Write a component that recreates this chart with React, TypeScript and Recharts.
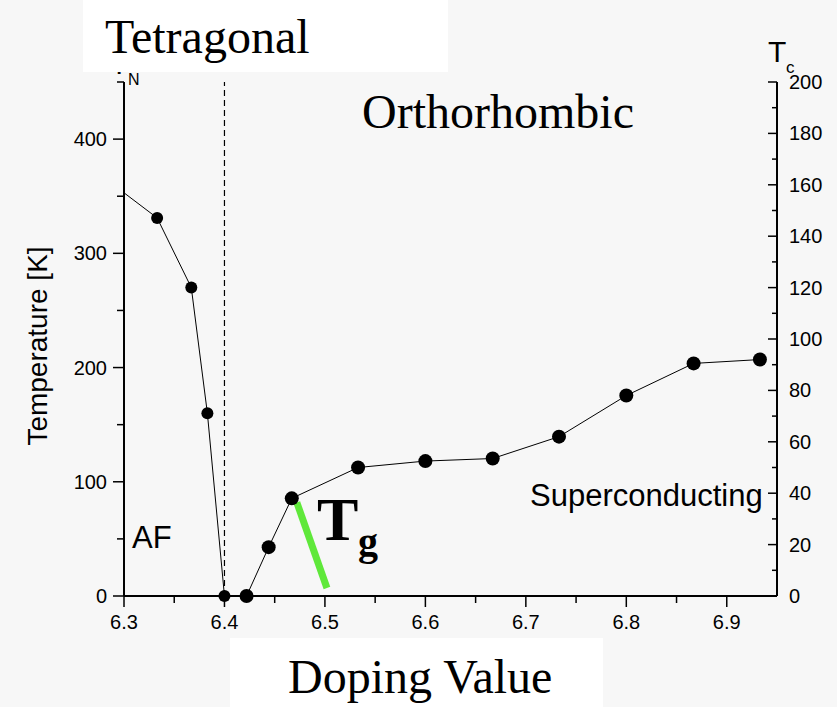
import { ComposedChart, Line, XAxis, YAxis, ReferenceLine } from "recharts";

// Néel temperature (left axis, K)
const tnDoping = [6.3, 6.333, 6.367, 6.383, 6.4];
const tnTemp = [353, 331, 270, 160, 0];

// Tc (right axis, K)
const tcDoping = [6.422, 6.444, 6.467, 6.533, 6.6, 6.667, 6.733, 6.8, 6.867, 6.933];
const tcTemp = [0, 19, 38, 50, 52.5, 53.5, 62, 78, 90.5, 92];

// Tg marker (left axis)
const tgDoping = [6.472, 6.502];
const tgTemp = [82, 7];

const xTicks = [6.3, 6.35, 6.4, 6.45, 6.5, 6.55, 6.6, 6.65, 6.7, 6.75, 6.8, 6.85, 6.9];
const leftTicks = [0, 50, 100, 150, 200, 250, 300, 350, 400, 450];
const rightTicks = [0, 10, 20, 30, 40, 50, 60, 70, 80, 90, 100, 110, 120, 130, 140, 150, 160, 170, 180, 190, 200];

const tnData = tnDoping.map((d, i) => ({ d, t: tnTemp[i] }));
const tcData = tcDoping.map((d, i) => ({ d, t: tcTemp[i] }));
const tgData = tgDoping.map((d, i) => ({ d, t: tgTemp[i] }));

const SANS = "'Liberation Sans', Arial, sans-serif";
const SERIF = "'Liberation Serif', 'Times New Roman', serif";

const BottomTick = ({ x, y, payload }: any) => {
  const major = Math.round(payload.value * 100) % 10 === 0;
  return (
    <g>
      <line x1={x} y1={y} x2={x} y2={y + (major ? 11 : 7)} stroke="#000" strokeWidth={1.5} />
      {major && (
        <text x={x} y={y + 33} textAnchor="middle" fontSize={20} fontFamily={SANS} fill="#000">
          {payload.value.toFixed(1)}
        </text>
      )}
    </g>
  );
};

const LeftTick = ({ x, y, payload }: any) => {
  const major = payload.value % 100 === 0;
  return (
    <g>
      <line x1={x} y1={y} x2={x - (major ? 11 : 7)} y2={y} stroke="#000" strokeWidth={1.5} />
      {major && (
        <text x={x - 17} y={y + 7} textAnchor="end" fontSize={20} fontFamily={SANS} fill="#000">
          {payload.value}
        </text>
      )}
    </g>
  );
};

const RightTick = ({ x, y, payload }: any) => {
  const major = payload.value % 20 === 0;
  return (
    <g>
      <line x1={x} y1={y} x2={x - (major ? 9 : 5)} y2={y} stroke="#000" strokeWidth={1.5} />
      {major && (
        <text x={x + 12} y={y + 7} textAnchor="start" fontSize={20} fontFamily={SANS} fill="#000">
          {payload.value}
        </text>
      )}
    </g>
  );
};

const tnDot = (r: number) => (props: any) => {
  const { cx, cy, index } = props;
  if (index === 0) return <g key={`tn-${index}`} />;
  return <circle key={`tn-${index}`} cx={cx} cy={cy} r={r} fill="#000" />;
};

const tcDot = (props: any) => {
  const { cx, cy, index } = props;
  return <circle key={`tc-${index}`} cx={cx} cy={cy} r={7} fill="#000" />;
};

export default function App() {
  return (
    <div style={{ position: "absolute", left: 0, top: 0, width: 837, height: 707, background: "#f7f7f7" }}>
      <ComposedChart width={837} height={707} margin={{ top: 82, right: 10, bottom: 71, left: 54 }}>
        <XAxis
          dataKey="d"
          type="number"
          domain={[6.3, 6.95]}
          ticks={xTicks}
          allowDataOverflow
          height={40}
          tickSize={0}
          tickMargin={0}
          tickLine={false}
          tick={<BottomTick />}
          axisLine={{ stroke: "#000", strokeWidth: 2 }}
        />
        <YAxis
          yAxisId="left"
          type="number"
          domain={[0, 450]}
          ticks={leftTicks}
          width={70}
          tickSize={0}
          tickMargin={0}
          tickLine={false}
          tick={<LeftTick />}
          axisLine={{ stroke: "#000", strokeWidth: 2 }}
        />
        <YAxis
          yAxisId="right"
          orientation="right"
          type="number"
          domain={[0, 200]}
          ticks={rightTicks}
          width={50}
          tickSize={0}
          tickMargin={0}
          tickLine={false}
          tick={<RightTick />}
          axisLine={{ stroke: "#000", strokeWidth: 2 }}
        />
        <ReferenceLine yAxisId="left" x={6.4} stroke="#000" strokeWidth={1.2} strokeDasharray="6 4" />
        <Line
          yAxisId="left"
          data={tnData}
          dataKey="t"
          type="linear"
          stroke="#000"
          strokeWidth={1}
          dot={tnDot(6)}
          activeDot={false}
          isAnimationActive={false}
        />
        <Line
          yAxisId="right"
          data={tcData}
          dataKey="t"
          type="linear"
          stroke="#000"
          strokeWidth={1}
          dot={tcDot}
          activeDot={false}
          isAnimationActive={false}
        />
        <Line
          yAxisId="left"
          data={tgData}
          dataKey="t"
          type="linear"
          stroke="#5fe83a"
          strokeWidth={7}
          dot={false}
          activeDot={false}
          isAnimationActive={false}
        />
      </ComposedChart>
      <svg
        width={837}
        height={707}
        style={{ position: "absolute", left: 0, top: 0, pointerEvents: "none" }}
      >
        {/* T_N label, mostly covered by the Tetragonal box */}
        <text x={110} y={74} fontSize={30} fontFamily={SANS} fill="#000">T</text>
        <text x={128} y={85} fontSize={16} fontFamily={SANS} fill="#000">N</text>
        <rect x={83} y={0} width={365} height={72} fill="#fff" />
        <text x={105} y={53} fontSize={48} fontFamily={SERIF} fill="#000">Tetragonal</text>
        <text x={362} y={128} fontSize={48} fontFamily={SERIF} fill="#000">Orthorhombic</text>
        <text x={768} y={62} fontSize={30} fontFamily={SANS} fill="#000">T</text>
        <text x={786} y={73} fontSize={17} fontFamily={SANS} fill="#000">c</text>
        <text x={530} y={506} fontSize={31} fontFamily={SANS} fill="#000">Superconducting</text>
        <text x={132} y={548} fontSize={31} fontFamily={SANS} fill="#000">AF</text>
        <text x={317} y={540} fontSize={62} fontWeight="bold" fontFamily={SERIF} fill="#000">T</text>
        <text x={358} y={555} fontSize={40} fontWeight="bold" fontFamily={SERIF} fill="#000">g</text>
        <text
          x={47}
          y={346}
          fontSize={28}
          fontFamily={SANS}
          textAnchor="middle"
          transform="rotate(-90, 47, 346)"
          fill="#000"
        >
          Temperature [K]
        </text>
        <rect x={230} y={638} width={373} height={69} fill="#fff" />
        <text x={288} y={693} fontSize={48} fontFamily={SERIF} fill="#000">Doping Value</text>
      </svg>
    </div>
  );
}
